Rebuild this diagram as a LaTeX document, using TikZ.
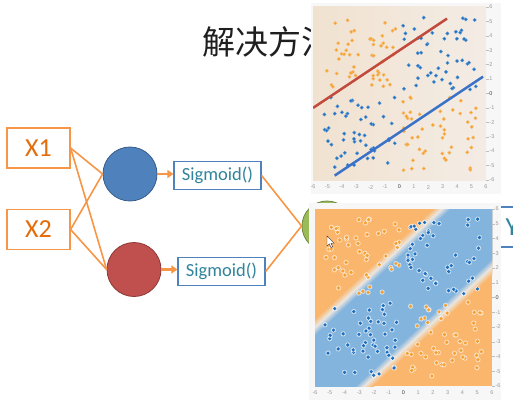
\documentclass[tikz,border=0pt]{standalone}
\usepackage{fontspec}
\setmainfont{Carlito}
\newfontfamily\cjk{Noto Sans CJK SC}
\newfontfamily\tickfont{Liberation Sans}
\usetikzlibrary{arrows.meta}
\definecolor{xor}{HTML}{F79646}
\definecolor{xtext}{HTML}{E46C0A}
\definecolor{sigb}{HTML}{4F81BD}
\definecolor{sigt}{HTML}{31849B}
\definecolor{hblue}{HTML}{4F81BD}
\definecolor{hblueb}{HTML}{385D8A}
\definecolor{hred}{HTML}{C0504D}
\definecolor{hredb}{HTML}{8C3836}
\definecolor{hgreen}{HTML}{9BBB59}
\definecolor{hgreenb}{HTML}{71893F}
\definecolor{panel}{HTML}{F7F7F7}
\definecolor{beigeL}{HTML}{F1E2D0}
\definecolor{beigeR}{HTML}{F3ECE5}
\definecolor{ptor}{HTML}{F5A030}
\definecolor{ptbl}{HTML}{1F6FC0}
\definecolor{lred}{HTML}{C24A3C}
\definecolor{lblue}{HTML}{3A72C8}
\definecolor{bor}{HTML}{FAB66C}
\definecolor{bbl}{HTML}{82B4DE}
\definecolor{mid}{HTML}{ECE6DF}
\tikzset{
  xbox/.style={draw=xor, line width=1.2pt, minimum width=63pt, minimum height=40pt, text=xtext, font=\fontsize{26}{26}\selectfont, inner sep=0pt},
  sigbox/.style={draw=sigb, line width=1.2pt, minimum width=87pt, minimum height=28pt, text=sigt, font=\fontsize{18.5}{18.5}\selectfont, inner sep=0pt},
  hid/.style={circle, minimum size=54pt, inner sep=0pt, line width=0.8pt},
  conn/.style={draw=xor, line width=1.6pt},
  arr/.style={draw=xor, line width=2.6pt, -{Triangle[length=6pt,width=8pt]}},
  tick/.style={font=\tickfont\fontsize{5.5}{5.5}\selectfont, text=black!40, inner sep=0.5pt},
}
\begin{document}
\begin{tikzpicture}[x=1pt,y=-1pt]
\useasboundingbox (0,0) rectangle (513,401);
\fill[white] (0,0) rectangle (513,401);

% title
\node[font=\cjk\fontsize{33}{33}\selectfont, anchor=west, text=black!88, inner sep=0pt] (title) at (202,42) {解决方法};

% network
\node[xbox] (x1) at (38.5,148) {X1};
\node[xbox] (x2) at (38.5,229.5) {X2};
\node[hid, fill=hblue, draw=hblueb] (h1) at (130,174) {};
\node[hid, fill=hred, draw=hredb] (h2) at (134,269.5) {};
\node[sigbox] (s1) at (217.5,175.5) {Sigmoid()};
\node[sigbox] (s2) at (221.5,271.5) {Sigmoid()};
\node[circle, minimum size=50pt, fill=hgreen, draw=hgreenb, line width=0.8pt] (g) at (327,226) {};
\node[draw=sigb, line width=1.2pt, minimum width=70pt, minimum height=40pt, text=sigt, font=\fontsize{26}{26}\selectfont, inner sep=0pt] (y) at (512,227) {Y};

\draw[conn] (x1.east) -- (h1.west);
\draw[conn] (x1.east) -- (h2.west);
\draw[conn] (x2.east) -- (h1.west);
\draw[conn] (x2.east) -- (h2.west);
\draw[arr] (h1.east) -- (h1.east -| s1.west);
\draw[arr] (h2.east) -- (h2.east -| s2.west);
\draw[conn] (s1.east) -- (g.west);
\draw[conn] (s2.east) -- (g.west);
\draw[arr] (g.east) -- (y.west);

% ---------- top plot ----------
\fill[panel] (311,3) rectangle (501,194);
\shade[left color=beigeL, right color=beigeR] (313,7) rectangle (486,180);
\begin{scope}[shift={(399.5,93.5)}, x=14.4pt, y=14.4pt]
  \begin{scope}
    \clip (-6,-6) rectangle (6,6);
    \pgfmathsetseed{11}
    \foreach \sx/\sy/\c in {-1/1/ptor, 1/1/ptbl, -1/-1/ptbl, 1/-1/ptor}{
      \foreach \i in {1,...,50}{
        \pgfmathsetmacro\px{\sx*(0.25+5.1*rnd)}
        \pgfmathsetmacro\py{\sy*(0.25+5.1*rnd)}
        \fill[\c, draw=\c!70!white, line width=0.4pt] (\px,\py) circle[radius=1.7pt];
      }
    }
    \draw[lred, line width=2.5pt] (-6,-1) -- (3.3,5.2);
    \draw[lblue, line width=2.5pt] (-4.5,-5.7) -- (5.8,1.17);
  \end{scope}
  \foreach \v in {-6,...,6}{
    \ifnum\v=0
      \node[tick, text=black!75] at (\v,-6.5) {\v};
      \node[tick, text=black!75, anchor=west] at (6.2,\v) {\v};
    \else
      \node[tick] at (\v,-6.5) {\v};
      \node[tick, anchor=west] at (6.2,\v) {\v};
    \fi
    \draw[black!25, line width=0.4pt] (6.02,\v) -- (6.2,\v);
  }
\end{scope}

% ---------- bottom plot ----------
\fill[panel] (309,203) rectangle (501,400);
\begin{scope}[shift={(403.5,297.5)}, x=14.75pt, y=14.75pt]
  \begin{scope}
    \clip (-6,-6) rectangle (6,6);
    \fill[bor] (-6,-6) rectangle (6,6);
    \begin{scope}[rotate=43]
      \foreach \k in {0,...,12}{
        \pgfmathsetmacro\w{3.05-0.07*\k}
        \ifnum\k<6
          \pgfmathtruncatemacro\p{100*\k/6}
          \colorlet{cc}{mid!\p!bor}
        \else
          \pgfmathtruncatemacro\p{100*(\k-6)/6}
          \colorlet{cc}{bbl!\p!mid}
        \fi
        \fill[cc] (-12,-\w) rectangle (12,\w);
      }
    \end{scope}
    \pgfmathsetseed{23}
    \foreach \sx/\sy/\c in {-1/1/ptor, 1/1/ptbl, -1/-1/ptbl, 1/-1/ptor}{
      \foreach \i in {1,...,50}{
        \pgfmathsetmacro\px{\sx*(0.25+5.1*rnd)}
        \pgfmathsetmacro\py{\sy*(0.25+5.1*rnd)}
        \fill[white, opacity=0.6] (\px,\py) circle[radius=2.6pt];
        \fill[\c] (\px,\py) circle[radius=1.8pt];
      }
    }
  \end{scope}
  \foreach \v in {-6,...,6}{
    \ifnum\v=0
      \node[tick, text=black!75] at (\v,-6.45) {\v};
      \node[tick, text=black!75, anchor=west] at (6.2,\v) {\v};
    \else
      \node[tick] at (\v,-6.45) {\v};
      \node[tick, anchor=west] at (6.2,\v) {\v};
    \fi
    \draw[black!25, line width=0.4pt] (6.02,\v) -- (6.2,\v);
  }
\end{scope}

% mouse cursor
\draw[black!80, fill=white, line width=0.4pt] (327,236) -- (327,246) -- (329.3,243.8) -- (331,247.6) -- (332.6,246.9) -- (331,243.2) -- (334,243.2) -- cycle;
\end{tikzpicture}
\end{document}
